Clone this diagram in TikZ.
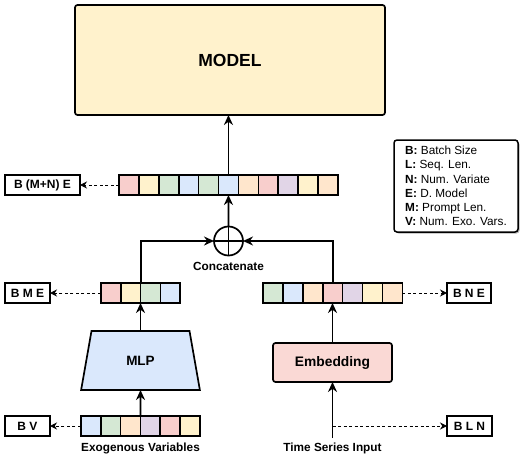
\documentclass[tikz,border=0pt]{standalone}
\usepackage{fontspec}
\setmainfont{Liberation Sans}
\usetikzlibrary{arrows.meta,shapes.geometric,shadows}
\definecolor{cred}{HTML}{F8CECC}
\definecolor{cyel}{HTML}{FFF2CC}
\definecolor{cgrn}{HTML}{D5E8D4}
\definecolor{cblu}{HTML}{DAE8FC}
\definecolor{corg}{HTML}{FFE6CC}
\definecolor{cpur}{HTML}{E1D5E7}
\definecolor{cemb}{HTML}{FAD9D5}
\tikzset{
  cell/.style={draw, line width=1.6pt, minimum width=19.9pt, minimum height=20pt, inner sep=0pt, outer sep=0pt},
  lbl/.style={draw, line width=1.7pt, minimum height=20pt, inner sep=0pt, outer sep=0pt, font=\fontsize{12}{13}\selectfont\bfseries},
  arr/.style={line width=1.7pt, -{Stealth[length=10pt,width=9pt]}},
  darr/.style={line width=1pt, dash pattern=on 3pt off 2.5pt, -{Stealth[length=7pt,width=7pt]}},
  captext/.style={font=\fontsize{11.8}{13}\selectfont\bfseries},
  blk/.style={draw, line width=1.7pt, rounded corners=2.5pt, inner sep=0pt, outer sep=0pt}
}
\begin{document}
\begin{tikzpicture}[x=1pt,y=-1pt]
\useasboundingbox (0,0) rectangle (527,468);
% model
\node[blk, fill=cyel, minimum width=310pt, minimum height=110pt, font=\fontsize{17.5}{19}\selectfont\bfseries] (model) at (230,60) {MODEL};
% top vector
\foreach \c [count=\i] in {cred,cyel,cgrn,cblu,cgrn,cblu,corg,cred,cpur,cyel,corg}
  \node[cell, fill=\c] (t\i) at ({119+(\i-0.5)*19.9},185) {};
\node[lbl, minimum width=75pt] (bmne) at (42.5,185) {B (M+N) E};
\draw[darr] (t1.west) -- (bmne.east);
\draw[arr] (t6.north) -- (t6.north |- model.south);
% concatenate
\node[circle, draw, line width=1.7pt, minimum size=29pt, inner sep=0pt, outer sep=0pt] (cat) at (228.5,241) {};
\draw[line width=1.7pt] (cat.north) -- (cat.south) (cat.west) -- (cat.east);
\node[captext] (catl) at (228.5,266) {Concatenate};
\draw[arr] (cat.north) -- (t6.south);
% left vector
\foreach \c [count=\i] in {cred,cyel,cgrn,cblu}
  \node[cell, fill=\c] (l\i) at ({101+(\i-0.5)*19.8},293) {};
\node[lbl, minimum width=45pt] (bme) at (27.5,293) {B M E};
\draw[darr] (l1.west) -- (bme.east);
\draw[arr] (l2.north east) |- (cat.west);
% right vector
\foreach \c [count=\i] in {cgrn,cblu,corg,cred,cpur,cyel,corg}
  \node[cell, fill=\c] (r\i) at ({263+(\i-0.5)*19.9},293) {};
\node[lbl, minimum width=44pt] (bne) at (469,293) {B N E};
\draw[darr] (r7.east) -- (bne.west);
\draw[arr] (r4.north) |- (cat.east);
% MLP
\node[trapezium, trapezium stretches=true, trapezium left angle=72, trapezium right angle=72, draw, line width=1.7pt, fill=cblu, minimum width=119pt, minimum height=59pt, inner sep=0pt, outer sep=0pt, font=\fontsize{13.5}{15}\selectfont\bfseries] (mlp) at (140.5,360.5) {MLP};
\draw[arr] (mlp.north) -- (mlp.north |- l2.south);
% exo vector
\foreach \c [count=\i] in {cblu,cgrn,corg,cpur,cred,cyel}
  \node[cell, fill=\c] (e\i) at ({81+(\i-0.5)*19.83},426) {};
\node[lbl, minimum width=45pt] (bv) at (27.5,426) {B V};
\draw[darr] (e1.west) -- (bv.east);
\draw[arr] (e3.north east) -- (mlp.south);
\node[captext] (exol) at (140.5,448) {Exogenous Variables};
% embedding
\node[blk, fill=cemb, minimum width=119pt, minimum height=39pt, font=\fontsize{13.8}{15}\selectfont\bfseries] (emb) at (332.5,362.5) {Embedding};
\draw[arr] (emb.north) -- (emb.north |- r4.south);
\coordinate (tsin) at (332.5,438);
\coordinate (tsd) at (332.5,426);
\draw[arr] (tsin) -- (emb.south);
\node[lbl, minimum width=45pt] (bln) at (469.5,426) {B L N};
\draw[darr] (tsd) -- (bln.west);
\node[captext] (tsl) at (332.5,448) {Time Series Input};
% legend
\node[draw, line width=1.5pt, rounded corners=3pt, fill=white, drop shadow={shadow xshift=1.5pt, shadow yshift=-1.5pt, opacity=0.6}, minimum width=124pt, minimum height=92pt, align=left, inner sep=0pt, font=\fontsize{11.8}{14.2}\selectfont] (legend) at (456,186)
{\textbf{B:} Batch Size\\ \textbf{L:} Seq. Len.\\ \textbf{N:} Num. Variate\\ \textbf{E:} D. Model\\ \textbf{M:} Prompt Len.\\ \textbf{V:} Num. Exo. Vars.};
\end{tikzpicture}
\end{document}
